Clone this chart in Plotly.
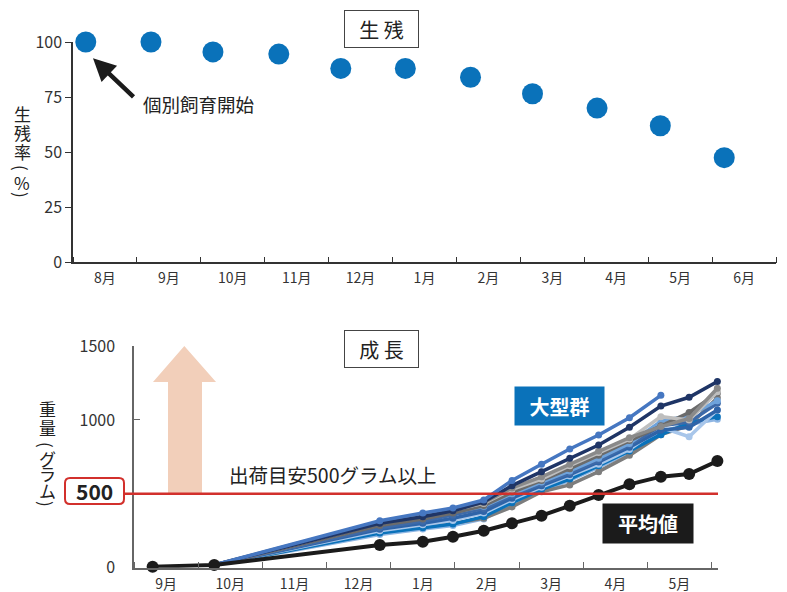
import plotly.graph_objects as go

W, H = 787, 592
FONT = "Noto Sans CJK JP"

# ---- 生残率 (survival rate) ----
surv_months = ["8月", "9月", "10月", "11月", "12月", "1月", "2月", "3月", "4月", "5月", "6月"]
# elapsed months from the start of August
surv_t = [0.20, 1.22, 2.19, 3.22, 4.19, 5.20, 6.22, 7.19, 8.20, 9.19, 10.19]
surv_rate = [100, 100, 95.5, 94.5, 88, 88, 84, 76.5, 70, 62, 47.5]
surv_ticks = [0, 25, 50, 75, 100]

# ---- 成長 (growth, grams) ----
growth_months = ["9月", "10月", "11月", "12月", "1月", "2月", "3月", "4月", "5月"]
# elapsed months from the start of September
growth_t = [0.29, 1.25, 3.83, 4.50, 4.97, 5.45, 5.89, 6.35, 6.79, 7.24, 7.72, 8.21, 8.65, 9.09]
mean_weight = [7, 18, 154, 176, 210, 250, 300, 352, 419, 492, 564, 616, 634, 722]
weight_ticks = [0, 1000, 1500]
target_weight = 500

# individuals of the large group (measured from 10月 on)
large_t = growth_t[1:]
large_colors = ["#8FB6E3", "#7D7D7D", "#0A72BA", "#A8C6EA", "#2F64A8", "#3E6AA8",
                "#6FA3DB", "#6B6B6B", "#BEBEBE", "#8A8A8A", "#1F3566", "#4677C1"]
large_weights = [
    [18, 225, 262, 285, 330, 430, 520, 590, 680, 780, 920, 970, 1004],
    [18, 240, 275, 300, 335, 411, 514, 560, 650, 760, 900, 960, 1150],
    [18, 235, 270, 295, 345, 440, 530, 600, 690, 790, 900, 980, 1022],
    [18, 250, 290, 320, 370, 460, 545, 620, 700, 800, 950, 886, 1067],
    [18, 260, 300, 335, 380, 470, 555, 630, 715, 815, 930, 950, 1067],
    [18, 270, 315, 355, 400, 490, 565, 640, 725, 830, 960, 985, 1112],
    [18, 290, 335, 375, 415, 500, 580, 655, 740, 840, 990, 1030, 1130],
    [18, 285, 330, 370, 420, 510, 590, 670, 760, 860, 960, 1050, 1180],
    [18, 305, 350, 390, 435, 530, 600, 690, 780, 870, 1022, 1000, 1190],
    [18, 310, 355, 392, 440, 540, 615, 700, 790, 880, 955, 1010, 1214],
    [18, 300, 345, 385, 445, 555, 650, 740, 830, 950, 1094, 1153, 1259],
    [18, 318, 370, 404, 458, 590, 700, 803, 898, 1015, 1166],
]


def px(x):
    return x / W


def py(y):
    return 1 - y / H


fig = go.Figure()

# survival scatter
fig.add_trace(go.Scatter(
    x=surv_t, y=surv_rate, mode="markers", xaxis="x", yaxis="y",
    marker=dict(size=21, color="#0A72BA"), cliponaxis=False, showlegend=False,
    hoverinfo="skip"))

# growth of the large group
for c, w in zip(large_colors, large_weights):
    fig.add_trace(go.Scatter(
        x=large_t[:len(w)], y=w, mode="lines+markers", xaxis="x2", yaxis="y2",
        line=dict(color=c, width=3.5), marker=dict(size=7, color=c),
        cliponaxis=False, showlegend=False, hoverinfo="skip"))

# mean weight
fig.add_trace(go.Scatter(
    x=growth_t, y=mean_weight, mode="lines+markers", xaxis="x2", yaxis="y2",
    line=dict(color="#1B1B1B", width=4), marker=dict(size=12, color="#1B1B1B"),
    cliponaxis=False, showlegend=False, hoverinfo="skip"))

tickfont = dict(family=FONT, size=16, color="#333333")
monthfont = dict(family=FONT, size=14, color="#333333")

fig.update_layout(
    width=W, height=H, margin=dict(l=0, r=0, t=0, b=0, autoexpand=False),
    paper_bgcolor="white", plot_bgcolor="white",
    font=dict(family=FONT, color="#222222"),
    xaxis=dict(
        domain=[px(73), px(776)], range=[0, 11], anchor="y", automargin=False,
        tickmode="array", tickvals=[i + 0.5 for i in range(len(surv_months))],
        ticktext=surv_months, ticks="", tickfont=monthfont, ticklabelstandoff=2,
        showgrid=False, zeroline=False, showline=True, linecolor="#333333", linewidth=1.5,
        minor=dict(tickmode="array", tickvals=list(range(len(surv_months) + 1)),
                   ticks="inside", ticklen=6, tickcolor="#333333", tickwidth=1.2,
                   showgrid=False),
    ),
    yaxis=dict(
        domain=[py(262.3), py(42)], range=[0, 100], anchor="x", automargin=False,
        tickmode="array", tickvals=surv_ticks, ticks="outside", ticklen=6,
        tickcolor="#333333", tickfont=tickfont,
        showgrid=False, zeroline=False, showline=True, linecolor="#333333", linewidth=1.5,
    ),
    xaxis2=dict(
        domain=[px(134), px(718)], range=[0, 9.1], anchor="y2", automargin=False,
        tickmode="array", tickvals=[i + 0.5 for i in range(len(growth_months))],
        ticktext=growth_months, ticks="", tickfont=monthfont, ticklabelstandoff=3,
        showgrid=False, zeroline=False, showline=True, linecolor="#666666", linewidth=1.5,
        minor=dict(tickmode="array", tickvals=list(range(len(growth_months) + 1)),
                   ticks="inside", ticklen=6, tickcolor="#666666", tickwidth=1.2,
                   showgrid=False),
    ),
    yaxis2=dict(
        domain=[py(567.7), py(346)], range=[0, 1500], anchor="x2", automargin=False,
        tickmode="array", tickvals=weight_ticks, ticks="inside", ticklen=6,
        tickcolor="#666666", tickfont=tickfont, ticklabelstandoff=14,
        showgrid=False, zeroline=False, showline=True, linecolor="#666666", linewidth=1.5,
    ),
)

shapes = []
# upward arrow toward the target weight
shapes.append(dict(
    type="path", xref="x2", yref="y2", layer="below",
    path="M 0.53,500 L 0.53,1256 L 0.296,1256 L 0.784,1500 L 1.278,1256 "
         "L 1.06,1256 L 1.06,500 Z",
    fillcolor="#F2CFBA", line=dict(width=0)))
# target weight line
shapes.append(dict(
    type="line", xref="paper", yref="y2", x0=px(124), x1=px(718),
    y0=target_weight, y1=target_weight, line=dict(color="#D2302C", width=2.5)))


def rounded_rect(x0, y0, x1, y1, r):
    rx, ry = r / W, r / H
    X0, X1, Y0, Y1 = px(x0), px(x1), py(y0), py(y1)
    return (f"M {X0 + rx},{Y0} L {X1 - rx},{Y0} Q {X1},{Y0} {X1},{Y0 - ry} "
            f"L {X1},{Y1 + ry} Q {X1},{Y1} {X1 - rx},{Y1} L {X0 + rx},{Y1} "
            f"Q {X0},{Y1} {X0},{Y1 + ry} L {X0},{Y0 - ry} Q {X0},{Y0} {X0 + rx},{Y0} Z")


shapes.append(dict(
    type="path", xref="paper", yref="paper",
    path=rounded_rect(65, 478, 124, 504, 5),
    fillcolor="white", line=dict(color="#D2302C", width=2)))
fig.update_layout(shapes=shapes)

ann = []


def label(x, y, text, size, color="#222222", **kw):
    ann.append(dict(x=px(x), y=py(y), xref="paper", yref="paper", text=text,
                    showarrow=False, font=dict(family=FONT, size=size, color=color),
                    xanchor="center", yanchor="middle", **kw))


# panel titles
label(381.5, 29, "生 残", 20, bgcolor="white", bordercolor="#444444", borderwidth=1,
      width=71, height=34)
label(381.5, 349, "成 長", 20, bgcolor="white", bordercolor="#444444", borderwidth=1,
      width=71, height=34)

# vertical axis titles, one glyph per line (brackets turned sideways)
for ch, y in zip(["生", "残", "率", "(", "%", ")"], [113, 132, 151, 168, 182, 195]):
    label(22, y, ch, 17, textangle=90 if ch in "()" else 0)
for ch, y in zip(["重", "量", "(", "グ", "ラ", "ム", ")"], [408, 427, 445, 458, 473, 490, 504]):
    label(47, y, ch, 17, textangle=90 if ch in "()" else 0)

# start of individual rearing
ann.append(dict(x=0.313, y=92.6, xref="x", yref="y", ax=42, ay=40, text="",
                showarrow=True, arrowhead=2, arrowsize=1, arrowwidth=4.5,
                arrowcolor="#1B1B1B"))
label(198.5, 104, "個別飼育開始", 18.5)

# growth annotations
label(332.5, 474, "出荷目安500グラム以上", 19.5)
label(94.5, 491, "<b>500</b>", 21)
label(559.5, 406, "<b>大型群</b>", 20, color="white", bgcolor="#0A72BA", width=87, height=36)
label(648, 523.5, "<b>平均値</b>", 20, color="white", bgcolor="#1B1B1B", width=88, height=37)

fig.update_layout(annotations=ann)

fig.write_html("out.html")
